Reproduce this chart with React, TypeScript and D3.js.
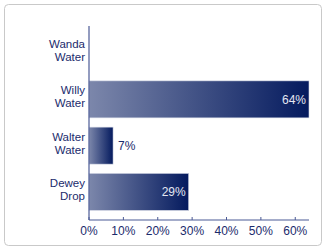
import React from 'react';
import * as d3 from 'd3';

const categories = ['Wanda Water', 'Willy Water', 'Walter Water', 'Dewey Drop'];
const shares = [0, 0.64, 0.07, 0.29];
const xTicks = [0, 0.1, 0.2, 0.3, 0.4, 0.5, 0.6];

const width = 325;
const height = 249;
const navy = '#1b2b6c';
const font = '"Liberation Sans", Arial, sans-serif';

const App = () => {
  const left = 89;
  const right = 309;
  const top = 26;
  const bottom = 220;

  const x = d3.scaleLinear().domain([0, 0.64]).range([left, right]);
  const y = d3
    .scaleBand<string>()
    .domain(categories)
    .range([30, 215])
    .paddingInner(0.2)
    .paddingOuter(0.1);

  const fmt = d3.format('.0%');

  return (
    <svg
      width={width}
      height={height}
      style={{ position: 'absolute', left: 0, top: 0 }}
      fontFamily={font}
    >
      <defs>
        <linearGradient id="barGrad" x1="0" y1="0" x2="1" y2="0">
          <stop offset="0" stopColor="#7c87ab" />
          <stop offset="1" stopColor="#041a5e" />
        </linearGradient>
      </defs>
      <rect x={4.5} y={4.5} width={317} height={241} rx={4} fill="#fff" stroke="#c9c9c9" />

      {/* bars */}
      {categories.map((c, i) => {
        const v = shares[i];
        if (!v) return null;
        const w = x(v) - x(0);
        const yc = y(c)! + y.bandwidth() / 2;
        const inside = w > 40;
        return (
          <g key={c}>
            <rect
              x={x(0)}
              y={y(c)}
              width={w}
              height={y.bandwidth()}
              fill="url(#barGrad)"
              stroke="#d5d9e6"
              strokeWidth={0.6}
            />
            <text
              x={inside ? x(v) - 3 : x(v) + 5}
              y={yc}
              dy="0.35em"
              textAnchor={inside ? 'end' : 'start'}
              fontSize={12}
              fill={inside ? '#e4e7f2' : navy}
            >
              {fmt(v)}
            </text>
          </g>
        );
      })}

      {/* category labels, two lines each */}
      {categories.map((c) => {
        const yc = y(c)! + y.bandwidth() / 2;
        const words = c.split(' ');
        return (
          <text key={c} x={85} y={yc - 5} fontSize={11.5} fill={navy} textAnchor="end">
            <tspan x={85}>{words[0]}</tspan>
            <tspan x={85} dy={13}>{words[1]}</tspan>
          </text>
        );
      })}

      {/* axes */}
      <line x1={left} x2={left} y1={top} y2={bottom} stroke="#4b5a95" strokeWidth={1.2} />
      <line x1={left} x2={right} y1={bottom} y2={bottom} stroke="#4b5a95" strokeWidth={1.2} />
      {xTicks.map((t) => (
        <g key={t} transform={`translate(${x(t)},${bottom})`}>
          <line y1={0} y2={-3} stroke="#4b5a95" />
          <text y={15} textAnchor="middle" fontSize={12} fill={navy}>
            {fmt(t)}
          </text>
        </g>
      ))}
    </svg>
  );
};

export default App;
